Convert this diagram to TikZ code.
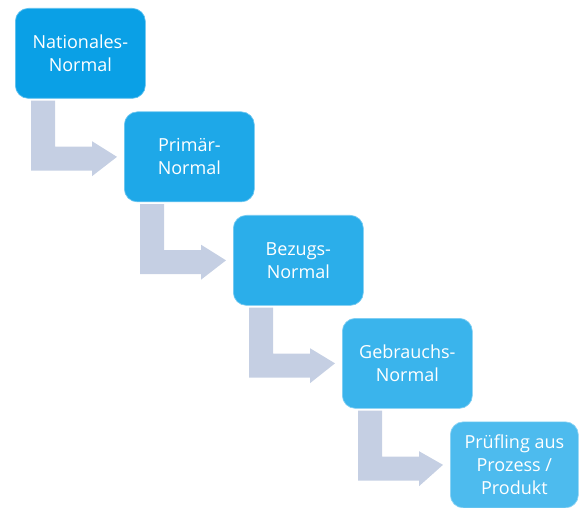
\documentclass[tikz,border=0pt]{standalone}
\usepackage{fontspec}
\setmainfont{Open Sans}
\usetikzlibrary{calc}

\definecolor{lvlA}{HTML}{0AA0E6}
\definecolor{lvlB}{HTML}{1EA8E8}
\definecolor{lvlC}{HTML}{2BAEEA}
\definecolor{lvlD}{HTML}{3AB4EC}
\definecolor{lvlE}{HTML}{4DBBEE}
\definecolor{stepfill}{HTML}{C5CFE3}

\tikzset{
  level/.style={
    rectangle, rounded corners=13pt, fill=#1, draw=white!35!#1,
    line width=0.7pt, minimum width=130pt, minimum height=90pt,
    inner sep=0pt, anchor=north west, align=center, text=white,
    font=\fontsize{18pt}{23pt}\selectfont
  },
  bentarrow/.style={fill=stepfill, draw=none}
}

% bent arrow leaving the bottom of one box and pointing at the next one
\newcommand{\bentstep}[2]{%
  \fill[bentarrow]
    ($(#1.south west)+(16,2)$) -- ($(#1.south west)+(40,2)$)
    -- ($(#1.south west)+(40,48)$) -- ($(#1.south west)+(77,48)$)
    -- ($(#1.south west)+(77,42.5)$) -- ($(#2.west)+(-7,0)$)
    -- ($(#1.south west)+(77,77.5)$) -- ($(#1.south west)+(77,72)$)
    -- ($(#1.south west)+(16,72)$) -- cycle;}

\begin{document}
\begin{tikzpicture}[x=1pt,y=-1pt]
  \useasboundingbox (0,0) rectangle (579,508);

  \node[level=lvlA] (n1) at (15,8)     {Nationales-\\Normal};
  \node[level=lvlB] (n2) at (124,111.5) {Primär-\\Normal};
  \node[level=lvlC] (n3) at (233,215)  {Bezugs-\\Normal};
  \node[level=lvlD] (n4) at (342,318)  {Gebrauchs-\\Normal};
  \node[level=lvlE, minimum width=128pt, minimum height=86pt]
                    (n5) at (450,421.5) {Prüfling aus\\Prozess /\\Produkt};

  \bentstep{n1}{n2}
  \bentstep{n2}{n3}
  \bentstep{n3}{n4}
  \bentstep{n4}{n5}
\end{tikzpicture}
\end{document}
